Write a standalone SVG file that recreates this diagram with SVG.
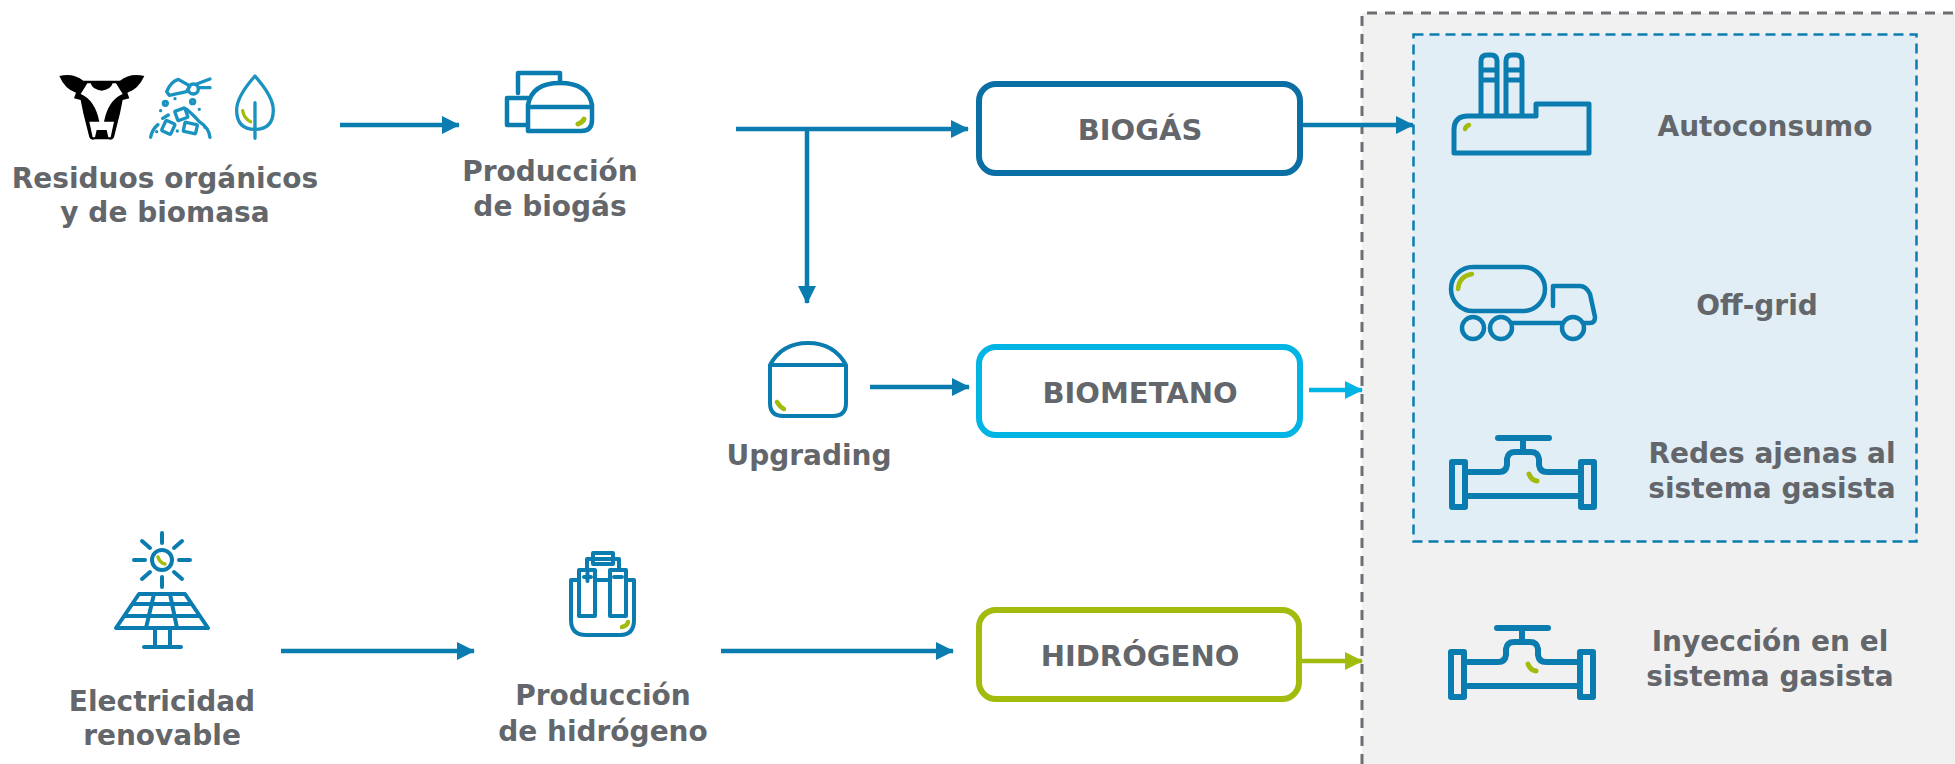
<svg xmlns="http://www.w3.org/2000/svg" width="1955" height="764" viewBox="0 0 1955 764">
<style>
text{font-family:"DejaVu Sans",Verdana,sans-serif;font-weight:700;fill:#63666a;font-size:28px;text-anchor:middle}
.bt{font-size:29px}
.i{fill:none;stroke:#0a7cb0;stroke-width:4.500;stroke-linecap:round;stroke-linejoin:round}
.g{fill:none;stroke:#a2bb0c;stroke-width:4.500;stroke-linecap:round;stroke-linejoin:round}
.box{fill:#fff;stroke-width:6}
.c{fill:none;stroke-width:4.500}
</style>
<defs>
<marker id="ab" markerUnits="userSpaceOnUse" markerWidth="18" markerHeight="18" refX="17" refY="9" orient="auto"><path d="M0 0L18 9L0 18Z" fill="#0a7cb0"/></marker>
<marker id="ac" markerUnits="userSpaceOnUse" markerWidth="18" markerHeight="18" refX="17" refY="9" orient="auto"><path d="M0 0L18 9L0 18Z" fill="#00b4e3"/></marker>
<marker id="ag" markerUnits="userSpaceOnUse" markerWidth="18" markerHeight="18" refX="17" refY="9" orient="auto"><path d="M0 0L18 9L0 18Z" fill="#a2bb0c"/></marker>
<g id="valve">
<path class="i" style="stroke-width:6" d="M1498 438H1549M1523 438V452M1465 472H1499Q1506 472 1507 465V459Q1508 452 1515 452H1531Q1538 452 1539 459V465Q1540 472 1547 472H1581M1465 496H1581"/>
<rect class="i" x="1452" y="462" width="13" height="45" style="stroke-width:6"/><rect class="i" x="1581" y="462" width="13" height="45" style="stroke-width:6"/>
<path class="g" style="stroke-width:5" d="M1529 474Q1531 480 1537 481"/>
</g>
</defs>
<g id="panel">
<path d="M1362 13H1955V764H1362Z" fill="#f1f1f2"/>
<path d="M1362 764V13H1955" fill="none" stroke="#6b6e72" stroke-width="3" stroke-dasharray="10 8"/>
</g>
<g id="panel-blue">
<rect x="1413.500" y="34.500" width="503" height="507" fill="#e1eef6" stroke="#0a7cb0" stroke-width="2.500" stroke-dasharray="10 6"/>
</g>
<g id="connectors">
<path class="c" stroke="#0a7cb0" d="M340 125H459" marker-end="url(#ab)"/>
<path class="c" stroke="#0a7cb0" d="M736 129H968" marker-end="url(#ab)"/>
<path class="c" stroke="#0a7cb0" d="M807 129V303" marker-end="url(#ab)"/>
<path class="c" stroke="#0a7cb0" d="M870 387H969" marker-end="url(#ab)"/>
<path class="c" stroke="#0a7cb0" d="M1302 125H1413" marker-end="url(#ab)"/>
<path class="c" stroke="#00b4e3" d="M1309 390H1362" marker-end="url(#ac)"/>
<path class="c" stroke="#a2bb0c" d="M1302 661H1362" marker-end="url(#ag)"/>
<path class="c" stroke="#0a7cb0" d="M281 651H474" marker-end="url(#ab)"/>
<path class="c" stroke="#0a7cb0" d="M721 651H953" marker-end="url(#ab)"/>
</g>
<g id="node-residuos">
<g transform="translate(40 50) scale(.3333)">
<path fill="#000" d="M58 78Q100 68 130 92L135 92L235 92L240 92Q270 68 313 78Q295 118 262 128L268 145L248 150L240 190L222 262Q218 272 205 268H165Q152 272 148 262L130 190L122 150L102 145L108 128Q75 118 58 78Z"/>
<path fill="#fff" d="M142 100H152Q158 120 185 122Q212 120 218 100H228L248 132Q205 150 192 215H222L212 262H205L200 240H170L165 262H158L148 215H178Q165 150 122 132Z"/>
</g>
<g transform="translate(40 50) scale(.3333)">
<g fill="none" stroke="#1a93c0" stroke-width="10" stroke-linecap="round" stroke-linejoin="round">
<path d="M380 125Q392 95 415 88L450 108Q442 120 440 125L388 136Z"/>
<circle cx="460" cy="117" r="15"/>
<path d="M470 102L510 87M478 113H510"/>
<path d="M332 262Q336 238 354 224M368 205L385 195M440 178Q460 195 478 215Q508 235 510 262"/>
<rect x="370" y="215" width="30" height="34" rx="4" transform="rotate(25 385 232)"/>
<rect x="408" y="178" width="32" height="30" rx="3" transform="rotate(-20 424 193)"/>
<rect x="432" y="220" width="38" height="28" rx="3" transform="rotate(12 451 234)"/>
<circle cx="376" cy="160" r="6"/><circle cx="458" cy="155" r="6"/>
<path d="M405 146V146M362 182V182M478 178V178M350 245V245M495 232V232M412 243V243"/>
</g>
<path fill="none" stroke="#1a93c0" stroke-width="10" stroke-linecap="round" stroke-linejoin="round" d="M645 78Q590 140 590 180Q590 238 645 238Q700 238 700 180Q700 140 645 78ZM645 158V265"/>
<path fill="none" stroke="#a2bb0c" stroke-width="10" stroke-linecap="round" d="M608 182Q612 205 632 215"/>
</g>
<text x="165" y="188">Residuos orgánicos</text>
<text x="165" y="222">y de biomasa</text>
</g>
<g id="node-produccion-biogas">
<path class="i" d="M518 93V73H560V83M528 98H507V125H528"/>
<path class="i" d="M528 131V105Q532 83 560 83Q588 83 592 105V120Q592 131 581 131ZM528 107H592"/>
<path class="g" style="stroke-width:5" d="M578 124Q583 122 584 119"/>
<text x="550" y="181">Producción</text>
<text x="550" y="216">de biogás</text>
</g>
<g id="node-biogas"><rect class="box" x="979" y="84" width="321" height="89" rx="17" stroke="#0a6fa5"/><text class="bt" x="1140" y="140">BIOGÁS</text></g>
<g id="node-upgrading">
<path class="i" style="stroke-width:4" d="M770 365V403Q770 416 783 416H833Q846 416 846 403V365M770 365Q782 343 808 343Q834 343 846 365ZM770 365H846"/>
<path class="g" d="M777 402Q780 407 784 409"/>
<text x="809" y="465">Upgrading</text>
</g>
<g id="node-biometano"><rect class="box" x="979" y="347" width="321" height="88" rx="17" stroke="#00b4e3"/><text class="bt" x="1140" y="403">BIOMETANO</text></g>
<g id="node-electricidad">
<g class="i" style="stroke-width:4">
<circle cx="162" cy="560" r="10"/>
<path d="M162 533V543M162 577V587M134 560H145M179 560H190M142 541L150 548M174 572L182 579M182 541L174 548M150 572L142 579"/>
<path d="M139 594H185L208 628H116ZM133 604H191M125 616H200M154 594L146 628M170 594L177 628M155 628V647M170 628V647M144 647H181"/>
</g>
<path class="g" style="stroke-width:3.500" d="M158 557Q160 563 165 564"/>
<text x="162" y="711">Electricidad</text>
<text x="162" y="745">renovable</text>
</g>
<g id="node-produccion-hidrogeno">
<g class="i" style="stroke-width:4">
<path d="M579 580H571V620Q571 635 586 635H620Q634 635 634 620V580H626M595 580H610"/>
<path d="M579 616V570H595V616ZM610 616V570H626V616Z"/>
<path d="M587 570V559H619V570"/>
<rect x="593" y="553" width="20" height="11"/>
<path d="M584 577H591M587.500 573V581M614 577H622"/>
</g>
<path class="g" d="M622 627Q627 626 628 622"/>
<text x="603" y="705">Producción</text>
<text x="603" y="741">de hidrógeno</text>
</g>
<g id="node-hidrogeno"><rect class="box" x="979" y="610" width="320" height="89" rx="17" stroke="#a2bb0c"/><text class="bt" x="1140" y="666">HIDRÓGENO</text></g>
<g id="node-autoconsumo">
<path class="i" style="stroke-width:5" d="M1481 114V61Q1481 55 1487 55H1491Q1497 55 1497 61V114M1506 114V61Q1506 55 1512 55H1516Q1522 55 1522 61V114M1481 70H1497M1481 80H1497M1506 70H1522M1506 80H1522"/>
<path class="i" style="stroke-width:5" d="M1454 153V130Q1454 116 1468 116H1536V104H1589V153Z"/>
<path class="g" d="M1465 129Q1466 126 1469 125"/>
<text x="1765" y="136">Autoconsumo</text>
</g>
<g id="node-offgrid">
<rect class="i" x="1451" y="267" width="94" height="44" rx="22"/>
<path class="i" d="M1553 306V286H1580Q1586 286 1590 294L1595 317Q1595 323 1590 323H1584M1562 323H1512"/>
<circle class="i" cx="1473" cy="328" r="11"/><circle class="i" cx="1501" cy="328" r="11"/><circle class="i" cx="1573" cy="328" r="11"/>
<path class="g" d="M1458 289Q1459 276 1472 274"/>
<text x="1757" y="315">Off-grid</text>
</g>
<g id="node-redes">
<use href="#valve"/>
<text x="1772" y="463">Redes ajenas al</text>
<text x="1772" y="498">sistema gasista</text>
</g>
<g id="node-inyeccion">
<use href="#valve" transform="translate(-1 190)"/>
<text x="1770" y="651">Inyección en el</text>
<text x="1770" y="686">sistema gasista</text>
</g>
</svg>
